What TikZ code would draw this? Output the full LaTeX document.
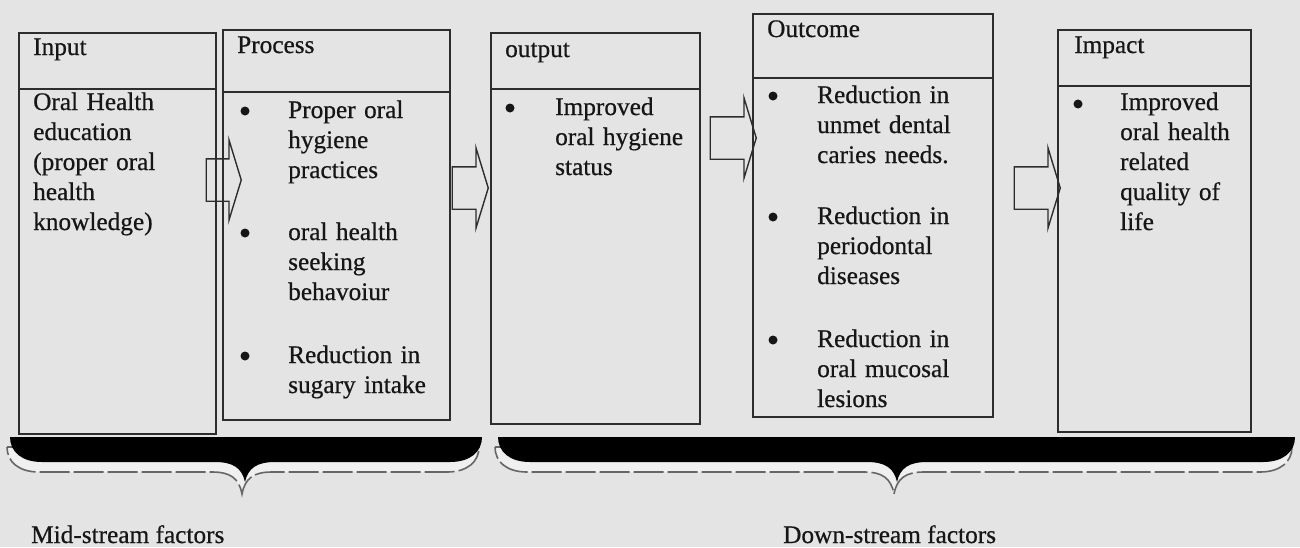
\documentclass[tikz,border=0pt]{standalone}
\usepackage{fontspec}
\setmainfont{Liberation Serif}[UprightFeatures={FakeBold=0.6}]
\usetikzlibrary{positioning,shapes.arrows}
\definecolor{paper}{RGB}{228,228,228}
\definecolor{ink}{RGB}{22,22,22}
\definecolor{rule}{RGB}{45,45,45}
\newcommand{\bodyfont}{\fontsize{25.3pt}{30pt}\selectfont}

\begin{document}
\begin{tikzpicture}[x=1pt,y=-1pt]
\tikzset{frame/.style={draw=rule,line width=1.5pt,inner sep=0pt,anchor=north west}}
\tikzset{note/.style={font=\bodyfont,text=ink,inner sep=0pt,anchor=base west}}
\tikzset{para/.style={note,align=left,text width=170pt}}
\tikzset{dot/.style={circle,fill=ink,inner sep=0pt,minimum size=9pt}}
\tikzset{fat/.style={single arrow,draw=rule,line width=1.4pt,inner xsep=0pt,inner ysep=20.5pt,
  single arrow head extend=19pt,single arrow tip angle=146}}
\tikzset{shade/.style={fill=paper!55!white,draw=black!60,line width=1.6pt,
  dash pattern=on 30pt off 4pt}}
\fill[paper] (0,0) rectangle (1300,547);
\useasboundingbox (0,0) rectangle (1300,547);

% the five boxes
\node[frame,minimum width=197pt,minimum height=56pt] (inHead) at (18,32) {};
\node[frame,minimum width=197pt,minimum height=345pt] (inBody) at (18,88) {};
\node[frame,minimum width=227pt,minimum height=62pt] (prHead) at (222,29) {};
\node[frame,minimum width=227pt,minimum height=328pt] (prBody) at (222,91) {};
\node[frame,minimum width=209pt,minimum height=56pt] (outHead) at (490,32) {};
\node[frame,minimum width=209pt,minimum height=335pt] (outBody) at (490,88) {};
\node[frame,minimum width=240pt,minimum height=64pt] (ocHead) at (752,13) {};
\node[frame,minimum width=240pt,minimum height=339pt] (ocBody) at (752,77) {};
\node[frame,minimum width=193pt,minimum height=56pt] (imHead) at (1057,29) {};
\node[frame,minimum width=193pt,minimum height=346pt] (imBody) at (1057,85) {};

% titles
\node[note] (inTitle) at (33,55) {Input};
\node[note] (prTitle) at (237,53) {Process};
\node[note] (outTitle) at (505,57) {output};
\node[note] (ocTitle) at (767,37) {Outcome};
\node[note] (imTitle) at (1074,53) {Impact};

% contents
\node[para] (inText) at (33,110) {Oral Health\\education\\(proper oral\\health\\knowledge)};

\node[dot] (prDotA) at (245,111) {};
\node[para] (prItemA) at (288,118) {Proper oral\\hygiene\\practices};
\node[dot] (prDotB) at (245,233) {};
\node[para] (prItemB) at (288,240) {oral health\\seeking\\behavoiur};
\node[dot] (prDotC) at (245,356) {};
\node[para] (prItemC) at (288,363) {Reduction in\\sugary intake};

\node[dot] (outDot) at (510,108) {};
\node[para] (outItem) at (555,115) {Improved\\oral hygiene\\status};

\node[dot] (ocDotA) at (773,96) {};
\node[para] (ocItemA) at (817,103) {Reduction in\\unmet dental\\caries needs.};
\node[dot] (ocDotB) at (773,217) {};
\node[para] (ocItemB) at (817,224) {Reduction in\\periodontal\\diseases};
\node[dot] (ocDotC) at (773,340) {};
\node[para] (ocItemC) at (817,347) {Reduction in\\oral mucosal\\lesions};

\node[dot] (imDot) at (1078,104) {};
\node[para] (imItem) at (1120,110) {Improved\\oral health\\related\\quality of\\life};

% block arrows between the boxes
\node[fat,minimum height=35pt] (arrA) at (220.5,180) {};
\node[fat,minimum height=36pt] (arrB) at (467,188) {};
\node[fat,minimum height=46pt] (arrC) at (730,138) {};
\node[fat,minimum height=46pt] (arrD) at (1034,188) {};

% braces with their shadow
\foreach \a/\b/\m in {10/482/245,498/1295/897}{
  \path[shade,shift={(-3,10)}] (\a,437) -- (\b,437)
    .. controls (\b,452) and ({\b-12},462) .. ({\b-32},462) -- ({\m+30},462)
    .. controls ({\m+12},462) and ({\m+3},468) .. (\m,484)
    .. controls ({\m-3},468) and ({\m-12},462) .. ({\m-30},462) -- ({\a+32},462)
    .. controls ({\a+12},462) and (\a,452) .. (\a,437) -- cycle;
  \fill[black] (\a,437) -- (\b,437)
    .. controls (\b,452) and ({\b-12},462) .. ({\b-32},462) -- ({\m+30},462)
    .. controls ({\m+12},462) and ({\m+3},468) .. (\m,482)
    .. controls ({\m-3},468) and ({\m-12},462) .. ({\m-30},462) -- ({\a+32},462)
    .. controls ({\a+12},462) and (\a,452) .. (\a,437) -- cycle;
}

\node[note] (midLbl) at (31,543) {Mid-stream factors};
\node[note] (downLbl) at (783,543) {Down-stream factors};
\end{tikzpicture}
\end{document}
